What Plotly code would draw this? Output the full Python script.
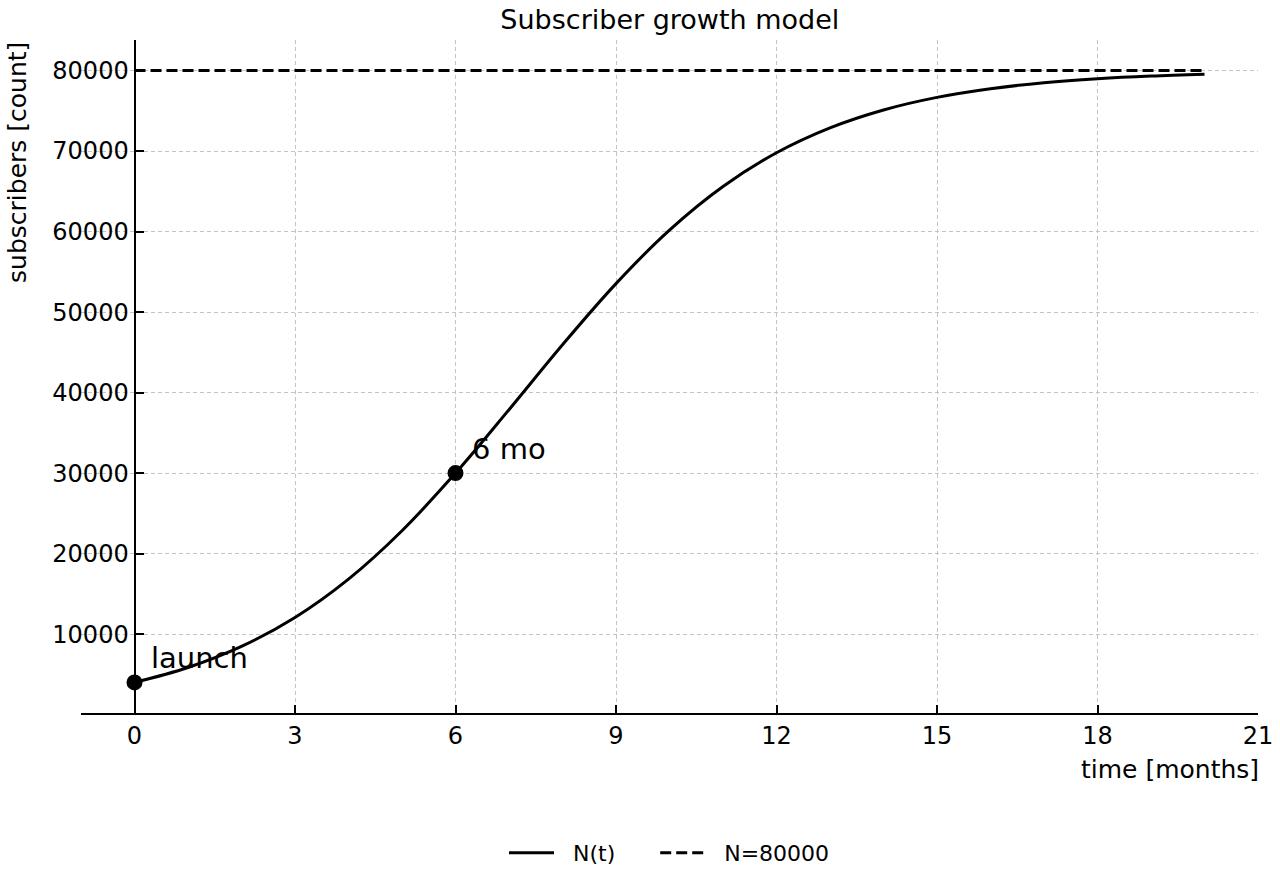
import plotly.graph_objects as go

months = list(range(0, 21))
subscribers = [4000, 5853, 8471, 12067, 16832, 22844, 30000, 37879, 45940, 53540,
               60180, 65595, 69790, 72886, 75111, 76673, 77750, 78487, 78984, 79320, 79546]
capacity = 80000
series_names = ["N(t)", "N=80000"]
marked_t = [0, 6]
marked_n = [4000, 30000]
marked_labels = ["launch", "6 mo"]
label_t = [0.28, 6.28]
label_n = [7000, 33000]
x_ticks = [0, 3, 6, 9, 12, 15, 18, 21]
y_ticks = [10000, 20000, 30000, 40000, 50000, 60000, 70000, 80000]

FONT = "DejaVu Sans"
PAD = "\u00a0\u00a0"
TAIL = "\u00a0" * 5

fig = go.Figure()
fig.add_trace(go.Scatter(x=months, y=subscribers, mode="lines", name=PAD + series_names[0] + TAIL,
                         line=dict(color="black", width=3, shape="spline")))
fig.add_trace(go.Scatter(x=[months[0], months[-1]], y=[capacity, capacity], mode="lines",
                         name=PAD + series_names[1],
                         line=dict(color="black", width=3, dash="11px,5px")))
fig.add_trace(go.Scatter(x=marked_t, y=marked_n, mode="markers", showlegend=False,
                         marker=dict(color="black", size=16)))
for t, n, lab in zip(label_t, label_n, marked_labels):
    fig.add_annotation(x=t, y=n, text=lab, showarrow=False, xanchor="left", yanchor="middle",
                       font=dict(size=29, color="black", family=FONT))

fig.add_annotation(xref="paper", yref="paper", x=1, y=-0.06, xshift=3, text="time [months]",
                   showarrow=False, xanchor="right", yanchor="top",
                   font=dict(size=25, color="black", family=FONT))
fig.add_annotation(xref="paper", yref="paper", x=-0.068, y=1, text="subscribers [count]",
                   showarrow=False, xanchor="left", yanchor="top", textangle=-90,
                   font=dict(size=25, color="black", family=FONT))

fig.update_layout(
    width=1280, height=880,
    margin=dict(l=81, r=22, t=40, b=167, autoexpand=False),
    paper_bgcolor="white", plot_bgcolor="white",
    font=dict(family=FONT, size=24, color="black"),
    title=dict(text="Subscriber growth model", x=0.5233, xanchor="center", y=0.978, yanchor="middle",
               font=dict(size=27, family=FONT, color="black")),
    legend=dict(orientation="h", x=0.5, xanchor="center", y=-0.208, yanchor="middle",
                font=dict(size=22, family=FONT), itemwidth=45),
    showlegend=True,
)
fig.update_xaxes(range=[-1, 21], tickvals=x_ticks, ticks="inside", ticklen=8, tickwidth=2,
                 tickcolor="black", showline=True, linecolor="black", linewidth=2,
                 showgrid=True, gridcolor="#c4c4c4", griddash="4px,3px", gridwidth=1,
                 zeroline=False, tickfont=dict(size=24), automargin=False)
fig.update_yaxes(range=[200, 83800], tickvals=y_ticks, ticks="inside", ticklen=8, tickwidth=2,
                 tickcolor="black", showline=True, linecolor="black", linewidth=2,
                 anchor="free", position=1/22, showgrid=True, gridcolor="#c4c4c4",
                 griddash="4px,3px", gridwidth=1, zeroline=False, tickfont=dict(size=24),
                 tickformat="d", automargin=False)

fig.write_html("out.html")
